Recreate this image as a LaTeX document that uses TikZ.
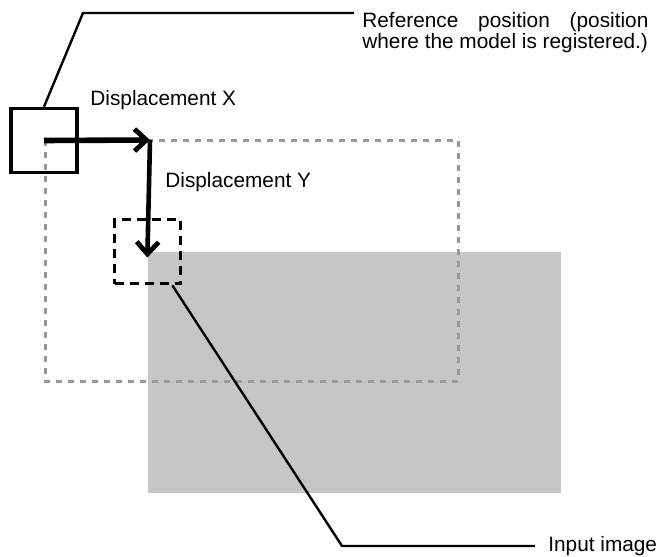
\documentclass[tikz,border=0pt]{standalone}
\usepackage{fontspec}
\setmainfont{Liberation Sans}
\usetikzlibrary{arrows.meta,positioning}

\begin{document}
\begin{tikzpicture}[x=0.5pt,y=-0.5pt,
  lbl/.style={font=\fontsize{10.4}{9.2}\selectfont,inner sep=0pt},
  leader/.style={line width=1.2pt},
  win/.style={minimum width=33pt,minimum height=32pt,inner sep=0pt,line width=1.8pt},
  disp/.style={line width=2.8pt,-{Straight Barb[length=6pt,width=11pt,line width=2.4pt]}}]
  \useasboundingbox (0,0) rectangle (660,557);
  % input image and the area moved by the displacement
  \fill[gray!45] (148,252) rectangle (561,493);
  \draw[gray!80,line width=1.5pt,dash pattern=on 3pt off 3pt] (45,140) rectangle (458,381);
  % model windows
  \node[win,draw] (refbox) at (44,140.5) {};
  \node[win,draw,dash pattern=on 4.5pt off 3pt] (inbox) at (147.5,251.5) {};
  \coordinate (shift) at (150,140);
  \draw[disp] (refbox.center) -- (shift);
  \draw[disp,line width=2.3pt,shorten >=-3pt] (shift) -- (inbox.center);
  \node[lbl,anchor=west] (dxlabel) at (90,100) {Displacement X};
  \node[lbl,anchor=west] (dylabel) at (165,182) {Displacement Y};
  % leaders
  \coordinate (refbend) at (83,13);
  \coordinate (refend) at (354,13);
  \draw[leader] (refbox.north) -- (refbend) -- (refend);
  \node[lbl,anchor=north west,align=left] (reflabel) at (362,12)
    {\makebox[143pt][s]{Reference position (position}\\where the model is registered.)};
  \coordinate (inbend) at (342,546);
  \coordinate (inend) at (535,546);
  \draw[leader] ([xshift=-5pt]inbox.south east) -- (inbend) -- (inend);
  \node[lbl,anchor=west] (inlabel) at (548,546) {Input image};
\end{tikzpicture}
\end{document}
